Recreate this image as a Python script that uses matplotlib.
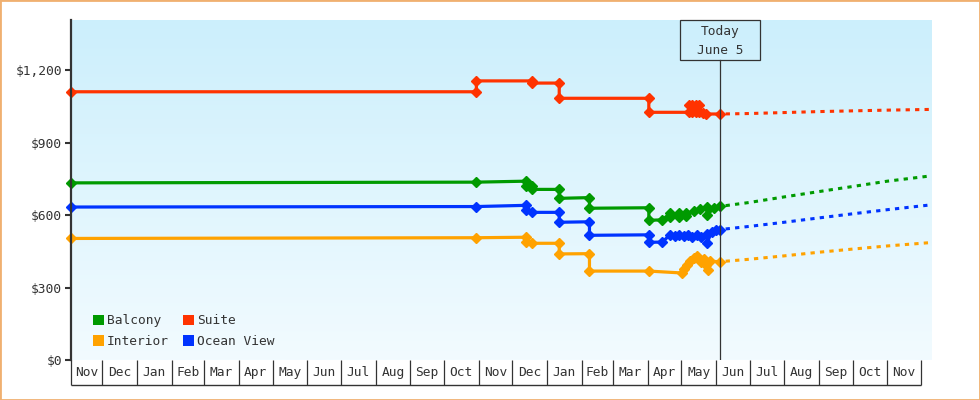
import matplotlib
matplotlib.use('Agg')
import matplotlib.pyplot as plt
import matplotlib.dates as mdates
import numpy as np
import pandas as pd
from matplotlib.patches import Patch, Rectangle
from matplotlib.colors import LinearSegmentedColormap

plt.rcParams['font.family'] = ['DejaVu Sans Mono', 'DejaVu Sans']

# ---------------- data ----------------
series_names = ['Balcony', 'Suite', 'Interior', 'Ocean View']
series_colors = ['#009a00', '#ff3300', '#ffa200', '#0033ff']

balcony_dates = ['2023-11-03', '2024-10-30', '2024-12-13', '2024-12-13', '2024-12-19', '2024-12-19',
                 '2025-01-12', '2025-01-12', '2025-02-08', '2025-02-08', '2025-04-02', '2025-04-02',
                 '2025-04-14', '2025-04-21', '2025-04-21', '2025-04-29', '2025-04-29', '2025-05-05',
                 '2025-05-05', '2025-05-12', '2025-05-18', '2025-05-24', '2025-05-24', '2025-05-30',
                 '2025-06-05']
balcony_prices = [733, 736, 740, 718, 718, 706,
                  706, 669, 672, 628, 630, 578,
                  580, 607, 590, 607, 592, 607,
                  596, 618, 626, 634, 600, 628,
                  636]

suite_dates = ['2023-11-03', '2024-10-30', '2024-10-30', '2024-12-19', '2024-12-19', '2025-01-12',
               '2025-01-12', '2025-04-02', '2025-04-02', '2025-05-08', '2025-05-08', '2025-05-11',
               '2025-05-11', '2025-05-14', '2025-05-14', '2025-05-17', '2025-05-17', '2025-05-20',
               '2025-05-23', '2025-06-05']
suite_prices = [1110, 1110, 1155, 1155, 1146, 1146,
                1083, 1083, 1025, 1025, 1055, 1055,
                1027, 1027, 1055, 1055, 1027, 1022,
                1018, 1018]

interior_dates = ['2023-11-03', '2024-10-30', '2024-12-13', '2024-12-13', '2024-12-19', '2025-01-12',
                  '2025-01-12', '2025-02-08', '2025-02-08', '2025-04-02', '2025-05-02', '2025-05-03',
                  '2025-05-06', '2025-05-09', '2025-05-12', '2025-05-15', '2025-05-17', '2025-05-19',
                  '2025-05-21', '2025-05-23', '2025-05-25', '2025-05-27', '2025-06-05']
interior_prices = [503, 506, 508, 487, 483, 483,
                   439, 440, 368, 368, 360, 378,
                   395, 410, 422, 432, 418, 407,
                   420, 393, 372, 408, 407]

ocean_dates = ['2023-11-03', '2024-10-30', '2024-12-13', '2024-12-13', '2024-12-19', '2025-01-12',
               '2025-01-12', '2025-02-08', '2025-02-08', '2025-04-02', '2025-04-02', '2025-04-14',
               '2025-04-21', '2025-04-25', '2025-04-29', '2025-05-03', '2025-05-07', '2025-05-11',
               '2025-05-15', '2025-05-19', '2025-05-24', '2025-05-24', '2025-05-28', '2025-06-01',
               '2025-06-05']
ocean_prices = [633, 635, 640, 621, 611, 611,
                570, 572, 516, 518, 487, 488,
                518, 512, 518, 512, 518, 510,
                518, 508, 520, 485, 528, 536,
                540]

proj_dates = ['2025-06-05', '2025-07-01', '2025-08-01', '2025-09-01', '2025-10-01', '2025-11-01', '2025-12-10']
balcony_proj = [636, 652, 675, 697, 718, 740, 762]
suite_proj = [1018, 1020, 1024, 1028, 1031, 1034, 1037]
interior_proj = [407, 417, 431, 446, 459, 472, 486]
ocean_proj = [540, 553, 570, 588, 605, 622, 642]

month_labels = ['Nov', 'Dec', 'Jan', 'Feb', 'Mar', 'Apr', 'May', 'Jun', 'Jul', 'Aug', 'Sep', 'Oct',
                'Nov', 'Dec', 'Jan', 'Feb', 'Mar', 'Apr', 'May', 'Jun', 'Jul', 'Aug', 'Sep', 'Oct', 'Nov']
y_ticks = [0, 300, 600, 900, 1200]
y_tick_labels = ['$0', '$300', '$600', '$900', '$1,200']
today_date = '2025-06-05'
today_text = ['Today', 'June 5']
x_start = '2023-11-03'
x_end = '2025-12-10'
y_max = 1407

# ---------------- figure ----------------
W, H = 980, 400
fig = plt.figure(figsize=(W / 100, H / 100), dpi=100)
ax_l, ax_r, ax_t, ax_b = 71, 931, 20, 360
ax = fig.add_axes([ax_l / W, (H - ax_b) / H, (ax_r - ax_l) / W, (ax_b - ax_t) / H])

txt_col = '#333333'
fs = 9.3

# gradient background
cmap = LinearSegmentedColormap.from_list('bg', ['#f2fbff', '#cceffc'])
grad = np.linspace(1, 0, 256).reshape(-1, 1)
ax.imshow(grad, cmap=cmap, extent=[0, 1, 0, 1], transform=ax.transAxes,
          aspect='auto', zorder=0, origin='upper')

x0 = mdates.date2num(pd.Timestamp(x_start))
x1 = mdates.date2num(pd.Timestamp(x_end))

hist = {
    'Balcony': (balcony_dates, balcony_prices, balcony_proj),
    'Suite': (suite_dates, suite_prices, suite_proj),
    'Interior': (interior_dates, interior_prices, interior_proj),
    'Ocean View': (ocean_dates, ocean_prices, ocean_proj),
}
pdates = pd.to_datetime(proj_dates)
for name, col in zip(series_names, series_colors):
    d, p, pr = hist[name]
    ax.plot(pdates, pr, color=col, lw=2.2,
            linestyle=(1.4, (1.4, 1.7)), zorder=2, dash_capstyle='butt')
    ax.plot(pd.to_datetime(d), p, color=col, lw=2.3, marker='D', ms=5.0,
            mec=col, mew=1.0, zorder=3, clip_on=False)

ax.set_xlim(x0, x1)
ax.set_ylim(0, y_max)

# spines
for s in ['top', 'right', 'bottom']:
    ax.spines[s].set_visible(False)
ax.spines['left'].set_linewidth(1.6)
ax.spines['left'].set_color(txt_col)
ax.spines['left'].set_zorder(5)

# y axis
ax.set_yticks(y_ticks)
ax.set_yticklabels(y_tick_labels)
ax.tick_params(axis='y', length=4, width=1.5, color=txt_col, pad=2.5,
               labelsize=fs, labelcolor=txt_col)

# x axis month boxes
month_starts = pd.date_range(pd.Timestamp(x_start) + pd.offsets.MonthBegin(1), periods=len(month_labels), freq='MS')
bounds = np.concatenate([[x0], mdates.date2num(month_starts)])
mids = (bounds[:-1] + bounds[1:]) / 2
ax.set_xticks(bounds)
ax.set_xticklabels([''] * len(bounds))
ax.set_xticks(mids, minor=True)
ax.set_xticklabels(month_labels, minor=True)
box_h = 25  # px
ax.tick_params(axis='x', which='major', length=box_h * 0.72, width=0.9, color=txt_col, direction='out')
ax.tick_params(axis='x', which='minor', length=0, pad=4.5, labelsize=fs, labelcolor=txt_col)
xt = ax.get_xaxis_transform()
ax.plot([bounds[0], bounds[-1]], [-box_h / (ax_b - ax_t)] * 2, transform=xt,
        color=txt_col, lw=1.0, clip_on=False, solid_capstyle='butt')

# Today marker
tnum = mdates.date2num(pd.Timestamp(today_date))
px_per_day = (ax_r - ax_l) / (x1 - x0)
box_w_days = 80 / px_per_day
box_hf = 40 / (ax_b - ax_t)
ax.add_patch(Rectangle((tnum - box_w_days / 2, 1 - box_hf), box_w_days, box_hf,
                       transform=xt, fill=False, ec=txt_col, lw=0.9, zorder=6, clip_on=False))
ax.plot([tnum, tnum], [0, 1 - box_hf], transform=xt, color=txt_col, lw=0.9, zorder=6)
ax.text(tnum, 1 - 11.7 / (ax_b - ax_t), today_text[0], transform=xt, ha='center', va='center',
        fontsize=fs, color=txt_col, zorder=7)
ax.text(tnum, 1 - 30 / (ax_b - ax_t), today_text[1], transform=xt, ha='center', va='center',
        fontsize=fs, color=txt_col, zorder=7)

# legend (row-major order: Balcony, Suite / Interior, Ocean View)
order = [0, 2, 1, 3]
handles = [Patch(facecolor=series_colors[i], edgecolor='none') for i in order]
labels = [series_names[i] for i in order]
leg = ax.legend(handles, labels, ncol=2, loc='lower left',
                bbox_to_anchor=((93 - ax_l) / (ax_r - ax_l), (ax_b - 348) / (ax_b - ax_t)),
                frameon=False, fontsize=fs, handlelength=0.85, handleheight=0.85,
                handletextpad=0.25, columnspacing=1.05, labelspacing=0.6, borderpad=0,
                borderaxespad=0)
for t in leg.get_texts():
    t.set_color(txt_col)

# figure border
fig.add_artist(Rectangle((0, 0), 1, 1, transform=fig.transFigure, fill=False,
                         ec='#f0b070', lw=2.0))

fig.savefig('out.png', dpi=100)
